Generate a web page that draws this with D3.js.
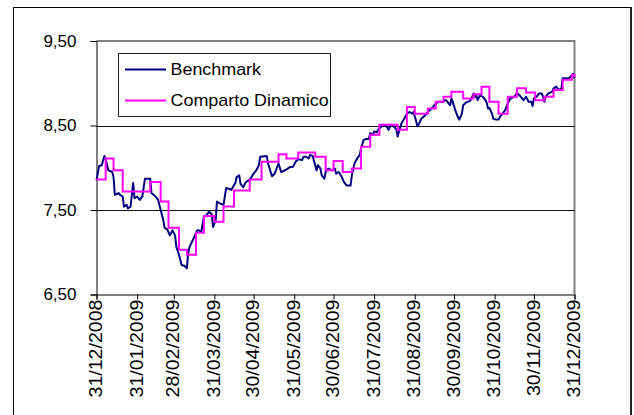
<!DOCTYPE html>
<html lang="en">
<head>
    <meta charset="UTF-8">
    <title>Benchmark vs Comparto Dinamico</title>
    <script src="https://d3js.org/d3.v7.min.js"></script>
    <style>
        body { margin: 0; background: white; }
        text { font-family: "Liberation Sans", Arial, sans-serif; fill: black; }
    </style>
</head>
<body>
<div id="chart"></div>
<script>
    // day 0 = 31/12/2008
    const startDate = new Date(2008, 11, 31);

    // Benchmark (daily line)
    const benchDays = [0,2,4,6,7,9,12,13,14,17,18,20,21,23,24,26,28,29,31,33,35,37,41,42,45,47,49,51,52,54,56,58,60,61,63,65,67,69,70,71,74,77,78,80,82,84,86,88,89,91,92,94,97,99,103,106,107,109,110,112,114,117,120,122,124,125,130,131,134,136,139,141,144,148,150,152,154,157,158,160,162,163,165,167,168,169,171,172,174,175,177,180,182,183,185,187,189,191,194,195,197,199,201,202,204,206,208,209,211,212,214,215,217,219,221,223,225,227,229,230,231,233,235,237,239,241,242,244,245,246,248,251,253,256,258,261,262,265,266,267,269,270,271,272,274,276,277,279,280,282,285,286,288,289,290,291,293,295,297,298,299,300,302,303,305,307,308,309,312,314,316,319,321,323,324,326,328,330,332,333,334,336,338,340,341,342,343,345,348,349,351,353,355,356,359,361,363,364,365];
    const benchVals = [7.85,8.02,8.03,8.14,8.10,7.97,7.95,7.89,7.68,7.70,7.68,7.66,7.54,7.56,7.52,7.54,7.82,7.64,7.66,7.62,7.66,7.87,7.87,7.70,7.66,7.62,7.50,7.38,7.29,7.27,7.20,7.26,7.20,7.06,6.97,6.85,6.84,6.81,6.99,7.06,7.16,7.26,7.26,7.24,7.42,7.44,7.48,7.45,7.30,7.38,7.60,7.58,7.56,7.76,7.74,7.82,7.89,7.91,7.81,7.77,7.83,7.86,7.93,7.97,8.03,8.13,8.14,8.05,7.90,7.93,8.05,7.95,7.97,8.01,8.01,8.07,8.10,8.09,8.13,8.13,8.11,8.15,8.14,8.03,7.97,8.03,7.99,7.91,7.87,7.95,7.99,7.97,7.99,7.93,7.95,7.90,7.83,7.79,7.79,7.91,8.05,8.11,8.15,8.23,8.33,8.34,8.34,8.41,8.39,8.43,8.42,8.45,8.48,8.51,8.50,8.45,8.51,8.49,8.45,8.37,8.43,8.53,8.58,8.64,8.66,8.64,8.66,8.56,8.49,8.51,8.58,8.62,8.66,8.70,8.74,8.78,8.78,8.78,8.80,8.80,8.76,8.74,8.82,8.78,8.68,8.60,8.57,8.64,8.74,8.77,8.79,8.81,8.88,8.84,8.86,8.80,8.86,8.84,8.80,8.77,8.70,8.71,8.64,8.58,8.57,8.57,8.60,8.62,8.68,8.76,8.82,8.84,8.88,8.86,8.84,8.80,8.84,8.78,8.78,8.73,8.82,8.84,8.88,8.88,8.84,8.78,8.84,8.88,8.90,8.94,8.96,8.92,8.94,9.06,9.06,9.06,9.10,9.11,9.06];

    // Comparto Dinamico (weekly steps: value holds until next day)
    const fundDays = [0,7,13,20,41,49,55,63,69,76,82,90,97,105,117,126,139,145,154,167,175,181,188,195,202,209,216,230,237,243,253,259,265,271,280,288,294,300,307,314,321,328,335,342,349,356,363,365];
    const fundVals = [7.86,8.11,7.97,7.72,7.83,7.60,7.29,7.03,6.97,7.23,7.43,7.36,7.54,7.73,7.86,8.07,8.16,8.11,8.18,8.13,7.97,8.08,7.95,7.99,8.25,8.39,8.51,8.45,8.72,8.64,8.70,8.78,8.84,8.90,8.82,8.87,8.96,8.78,8.64,8.84,8.94,8.89,8.80,8.84,8.92,9.04,9.10,9.07];

    const seriesNames = ["Benchmark", "Comparto Dinamico"];
    const seriesColors = ["#000080", "#ff00ff"];

    const xTickLabels = ["31/12/2008","31/01/2009","28/02/2009","31/03/2009","30/04/2009","31/05/2009","30/06/2009","31/07/2009","31/08/2009","30/09/2009","31/10/2009","30/11/2009","31/12/2009"];
    const yTicks = [6.5, 7.5, 8.5, 9.5];

    const W = 634, H = 415;
    const plot = {left: 96.5, top: 41, right: 574.5, bottom: 294.5};

    const svg = d3.select("#chart").append("svg")
        .attr("width", W).attr("height", H);

    // outer chart frame
    svg.append("rect")
        .attr("x", 13.5).attr("y", 7.5)
        .attr("width", 617).attr("height", 430)
        .attr("fill", "white").attr("stroke", "black").attr("stroke-width", 1);
    svg.append("line")
        .attr("x1", 631).attr("x2", 631).attr("y1", 7).attr("y2", H)
        .attr("stroke", "#222").attr("stroke-width", 2);

    const parseDate = d3.timeParse("%d/%m/%Y");
    const x = d3.scaleTime()
        .domain([startDate, new Date(2009, 11, 31)])
        .range([plot.left, plot.right]);
    const y = d3.scaleLinear()
        .domain([6.5, 9.5])
        .range([plot.bottom, plot.top]);

    const toDate = d => d3.timeDay.offset(startDate, d);
    const bench = benchDays.map((d, i) => ({date: toDate(d), value: benchVals[i]}));
    const fund = fundDays.map((d, i) => ({date: toDate(d), value: fundVals[i]}));

    // plot area border (gray top/right)
    svg.append("path")
        .attr("d", `M${plot.left},${plot.top}H${plot.right}V${plot.bottom}`)
        .attr("fill", "none").attr("stroke", "#808080").attr("stroke-width", 2);

    // gridlines
    svg.append("g").selectAll("line")
        .data([7.5, 8.5])
        .join("line")
        .attr("x1", plot.left).attr("x2", plot.right)
        .attr("y1", d => Math.round(y(d)) + 0.5).attr("y2", d => Math.round(y(d)) + 0.5)
        .attr("stroke", "#111").attr("stroke-width", 1);

    // y axis
    const yAxis = svg.append("g")
        .attr("transform", `translate(${plot.left},0)`)
        .call(d3.axisLeft(y).tickValues(yTicks).tickSize(6).tickPadding(14)
            .tickFormat(d => d3.format(".2f")(d).replace(".", ",")));
    yAxis.select(".domain").attr("stroke", "black");
    yAxis.selectAll("line").attr("stroke", "black");
    yAxis.selectAll("text").style("font-size", "17px").attr("fill", "black");

    // x axis
    const xAxis = svg.append("g")
        .attr("transform", `translate(0,${plot.bottom})`)
        .call(d3.axisBottom(x).tickValues(xTickLabels.map(parseDate)).tickSize(5)
            .tickFormat(d3.timeFormat("%d/%m/%Y")));
    xAxis.select(".domain").attr("stroke", "black");
    xAxis.selectAll("line").attr("stroke", "black");
    xAxis.selectAll("text")
        .style("font-size", "17.5px")
        .attr("fill", "black")
        .attr("text-anchor", "end")
        .attr("dy", null)
        .attr("dominant-baseline", "central")
        .attr("transform", "translate(-1,5) rotate(-90) scale(1.12,1)")
        .attr("x", 0).attr("y", 0);

    // series
    svg.append("path")
        .datum(bench)
        .attr("fill", "none")
        .attr("stroke", seriesColors[0])
        .attr("stroke-width", 2)
        .attr("stroke-linejoin", "round")
        .attr("d", d3.line().x(d => x(d.date)).y(d => y(d.value)));

    svg.append("path")
        .datum(fund)
        .attr("fill", "none")
        .attr("stroke", seriesColors[1])
        .attr("stroke-width", 2)
        .attr("d", d3.line().curve(d3.curveStepAfter).x(d => x(d.date)).y(d => y(d.value)));

    // legend
    const legend = svg.append("g");
    legend.append("rect")
        .attr("x", 118.5).attr("y", 53.5).attr("width", 212).attr("height", 63)
        .attr("fill", "white").attr("stroke", "#222").attr("stroke-width", 1);
    const items = legend.selectAll("g.item")
        .data(seriesNames)
        .join("g").attr("class", "item")
        .attr("transform", (d, i) => `translate(0,${i === 0 ? 69.5 : 100.5})`);
    items.append("line")
        .attr("x1", 125).attr("x2", 166)
        .attr("stroke", (d, i) => seriesColors[i]).attr("stroke-width", 2);
    items.append("text")
        .attr("transform", "translate(170.5,5.5) scale(1.12,1)")
        .style("font-size", "16px")
        .text(d => d);
</script>
</body>
</html>
